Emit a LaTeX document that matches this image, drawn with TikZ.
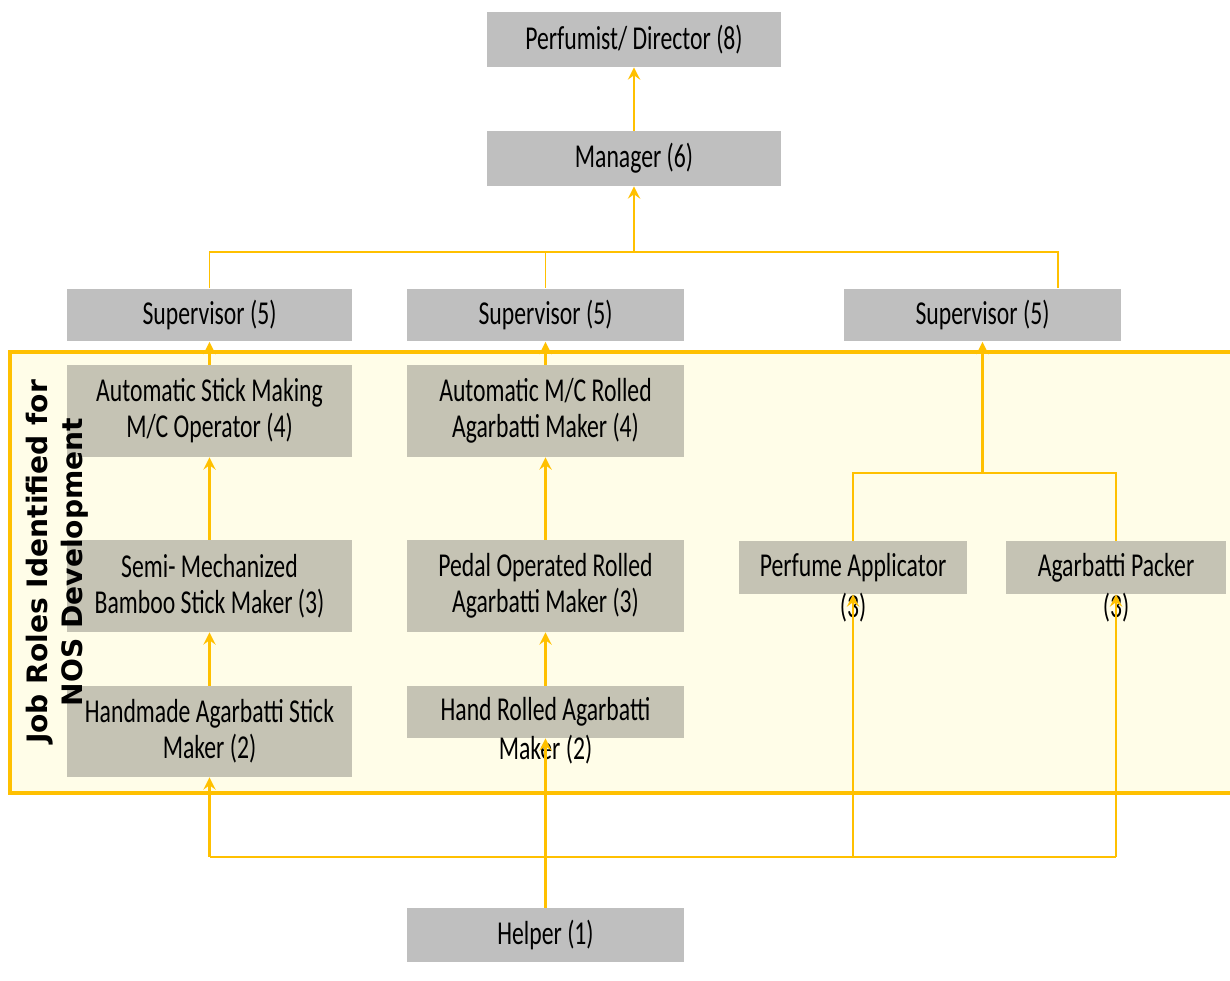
\documentclass[tikz,border=0pt]{standalone}
\usepackage{fontspec}
\setmainfont{Carlito}[FakeStretch=0.71]
\newfontfamily\sidefont{DejaVu Sans}
\usetikzlibrary{arrows.meta}
\definecolor{gold}{RGB}{255,192,0}
\definecolor{boxgray}{RGB}{191,191,191}
\definecolor{boxolive}{RGB}{197,195,180}
\definecolor{panelfill}{RGB}{255,253,232}
\tikzset{
  role/.style={fill=boxgray, inner sep=0pt, align=center, font=\fontsize{19}{20.5}\selectfont},
  inrole/.style={role, fill=boxolive},
  spill/.style={inner sep=0pt, font=\fontsize{19}{20.5}\selectfont},
  up/.style={gold, line width=1.6pt, -{Stealth[length=7pt,width=7pt,inset=2.5pt]}},
  link/.style={gold, line width=0.7pt},
  feed/.style={gold, line width=1.2pt}
}
\begin{document}
\begin{tikzpicture}[x=0.02cm,y=-0.02cm]
\useasboundingbox (0,0) rectangle (1230,980);
%panel
\draw[gold, line width=2.8pt, fill=panelfill] (10,352) rectangle (1240,793);
%top
\node[role, minimum width=5.88cm, minimum height=1.1cm] (dir) at (634,39.5) {Perfumist/ Director (8)};
\node[role, minimum width=5.88cm, minimum height=1.1cm] (mgr) at (634,158.5) {Manager (6)};
\node[role, minimum width=5.7cm, minimum height=1.06cm] (sup1) at (209.5,315) {Supervisor (5)};
\node[role, minimum width=5.54cm, minimum height=1.06cm] (sup2) at (545.5,315) {Supervisor (5)};
\node[role, minimum width=5.54cm, minimum height=1.06cm] (sup3) at (982.5,315) {Supervisor (5)};
%stick column
\node[inrole, minimum width=5.7cm, minimum height=1.84cm] (stickA) at (209.5,411) {Automatic Stick Making\\M/C Operator (4)};
\node[inrole, minimum width=5.7cm, minimum height=1.84cm] (stickB) at (209.5,586) {Semi- Mechanized\\Bamboo Stick Maker (3)};
\node[inrole, minimum width=5.7cm, minimum height=1.82cm] (stickC) at (209.5,731.5) {Handmade Agarbatti Stick\\Maker (2)};
%rolling column
\node[inrole, minimum width=5.54cm, minimum height=1.84cm] (rollA) at (545.5,411) {Automatic M/C Rolled\\Agarbatti Maker (4)};
\node[inrole, minimum width=5.54cm, minimum height=1.84cm] (rollB) at (545.5,586) {Pedal Operated Rolled\\Agarbatti Maker (3)};
\node[inrole, minimum width=5.54cm, minimum height=1.04cm] (rollC) at (545.5,712) {Hand Rolled Agarbatti};
\node[spill] (rollCb) at (545.5,750) {Maker (2)};
%perfume and packing
\node[inrole, minimum width=4.56cm, minimum height=1.06cm] (perf) at (853,567.5) {Perfume Applicator};
\node[spill] (perfb) at (853,608) {(3)};
\node[inrole, minimum width=4.4cm, minimum height=1.06cm] (pack) at (1116,567.5) {Agarbatti Packer};
\node[spill] (packb) at (1116,608) {(3)};
%helper
\node[role, minimum width=5.54cm, minimum height=1.08cm] (helper) at (545.5,935) {Helper (1)};
%side title, over the boxes
\node[rotate=90, align=center, inner sep=0pt, font=\sidefont\bfseries\fontsize{16}{20}\selectfont] (side) at (57,562) {Job Roles Identified for\\NOS Development};
%upper links
\coordinate (top) at (634,252);
\coordinate (s3in) at (1058,288);
\draw[up] (mgr) -- (dir);
\draw[up] (top) -- (mgr);
\draw[link] (sup1.north) |- (top) -| (s3in);
\draw[link] (sup2.north) -- (sup2.north |- top);
%columns
\draw[up] (stickA) -- (sup1);
\draw[up] (stickB) -- (stickA);
\draw[up] (stickC) -- (stickB);
\draw[up] (rollA) -- (sup2);
\draw[up] (rollB) -- (rollA);
\draw[up] (rollC) -- (rollB);
\coordinate (fork) at (982.5,473);
\draw[up] (fork) -- (sup3);
\draw[feed] (perf.north) |- (fork) -| (pack.north);
%helper feed
\coordinate (low) at (545.5,857);
\draw[feed] (stickC.south |- low) -- (pack.south |- low);
\draw[up] (helper) -- (rollC.south);
\draw[up] (stickC.south |- low) -- (stickC.south);
\draw[up] (perf.south |- low) -- (perf.south);
\draw[up] (pack.south |- low) -- (pack.south);
\end{tikzpicture}
\end{document}
